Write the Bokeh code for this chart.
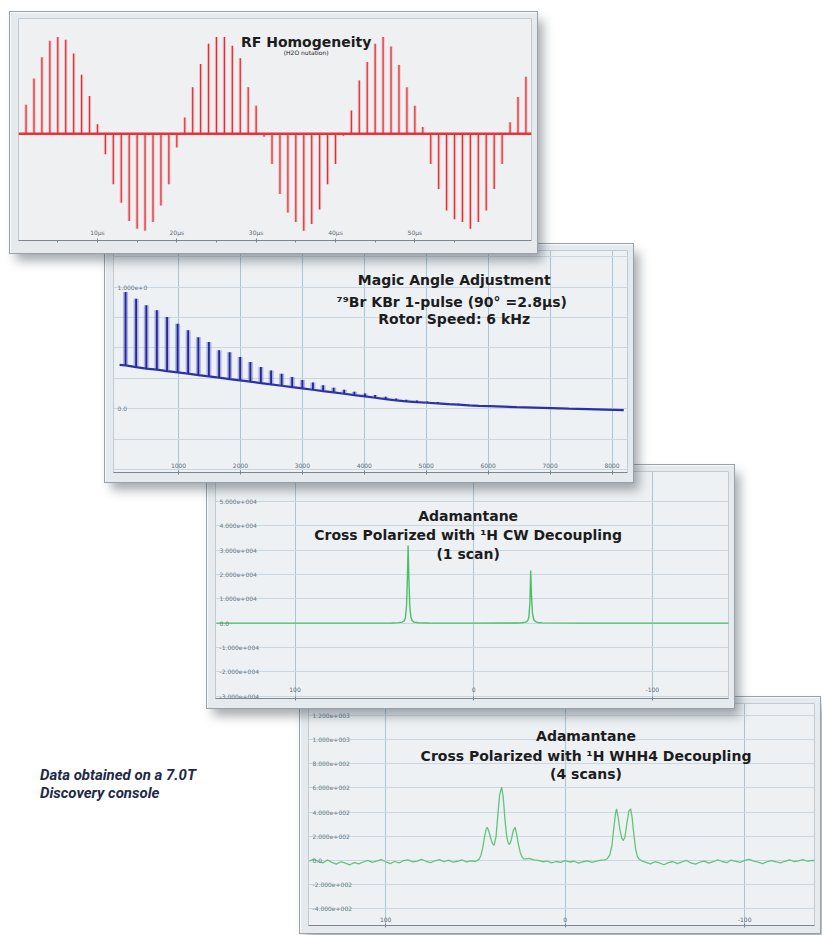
from bokeh.plotting import figure
from bokeh.models import Range1d, FixedTicker, Span, Div, Label
from bokeh.layouts import column
from bokeh.embed import file_html
from bokeh.resources import INLINE
from bokeh.core.properties import value

# ---------------- data ----------------
# Panel 1: RF homogeneity (H2O nutation) - signal vs pulse length (µs)
rf_pulse_us = [1, 2, 3, 4, 5, 6, 7, 8, 9, 10, 11, 12, 13, 14, 15, 16,
               17, 18, 19, 20, 21, 22, 23, 24, 25, 26, 27, 28, 29, 30, 31, 32,
               33, 34, 35, 36, 37, 38, 39, 40, 41, 42, 43, 44, 45, 46, 47, 48,
               49, 50, 51, 52, 53, 54, 55, 56, 57, 58, 59, 60, 61, 62, 63, 64]
rf_signal = [0.30, 0.57, 0.79, 0.96, 1.00, 0.97, 0.83, 0.61, 0.39, 0.10,
             -0.21, -0.52, -0.71, -0.90, -0.98, -1.00, -0.91, -0.74, -0.52, -0.14,
             0.17, 0.48, 0.72, 0.93, 1.00, 1.00, 0.91, 0.78, 0.48, 0.29,
             -0.03, -0.31, -0.62, -0.81, -0.91, -1.00, -0.93, -0.78, -0.52, -0.31,
             -0.02, 0.24, 0.55, 0.74, 0.93, 1.00, 0.90, 0.71, 0.48, 0.29,
             0.07, -0.31, -0.57, -0.79, -0.88, -0.91, -0.98, -0.91, -0.79, -0.57,
             -0.31, 0.12, 0.38, 0.59]
rf_ticks = [10, 20, 30, 40, 50]
rf_tick_labels = ["10µs", "20µs", "30µs", "40µs", "50µs"]
rf_minor_ticks = [5, 15, 25, 35, 45, 55]

# Panel 2: magic angle adjustment - 79Br FID with rotor echoes (time in µs)
mas_echo_us = [145, 315, 480, 650, 815, 985, 1155, 1320, 1490, 1655, 1825, 1995,
               2160, 2330, 2495, 2665, 2835, 3000, 3170, 3335, 3505, 3675, 3840, 4010,
               4175, 4345, 4515, 4680, 4850, 5015, 5185, 5355, 5520, 5690, 5855, 6025]
mas_echo_base = [0.356, 0.342, 0.329, 0.321, 0.309, 0.299, 0.288, 0.276, 0.266, 0.255,
                 0.243, 0.233, 0.222, 0.211, 0.200, 0.189, 0.178, 0.167, 0.156, 0.145,
                 0.134, 0.123, 0.112, 0.101, 0.090, 0.079, 0.068, 0.060, 0.054, 0.049,
                 0.044, 0.038, 0.033, 0.027, 0.024, 0.022]
mas_echo_height = [0.603, 0.562, 0.521, 0.488, 0.444, 0.400, 0.356, 0.312, 0.282, 0.225,
                   0.222, 0.192, 0.162, 0.132, 0.115, 0.099, 0.082, 0.069, 0.060, 0.047,
                   0.038, 0.033, 0.027, 0.025, 0.022, 0.019, 0.016, 0.014, 0.014, 0.011,
                   0.011, 0.008, 0.008, 0.005, 0.005, 0.005]
mas_start_us = [48]
mas_start_val = [0.360]
mas_tail_us = [6460, 7300, 8190]
mas_tail_val = [0.013, 0.000, -0.012]
mas_ticks = [1000, 2000, 3000, 4000, 5000, 6000, 7000, 8000]
mas_tick_labels = ["1000", "2000", "3000", "4000", "5000", "6000", "7000", "8000"]
mas_ygrid = [-0.5, -0.25, 0.0, 0.25, 0.5, 0.75, 1.0, 1.25]
mas_ylabel_vals = [1.0, 0.0]
mas_ylabels = ["1.000e+0", "0.0"]

# Panel 3: adamantane, CP with 1H CW decoupling (1 scan)
cw_x = [144, 100, 60, 46, 42, 40, 39, 38.2, 37.6, 37.1, 36.7, 36.3, 35.8, 35.2,
        34.4, 33.5, 31, 25, 0, -24, -27, -29, -30.2, -30.9, -31.5, -31.9, -32.3,
        -32.9, -33.6, -34.6, -35.8, -38.5, -60, -100, -143]
cw_y = [0, 0, 0, 60, 180, 380, 800, 2200, 7000, 18500, 31900, 19000, 7500, 2600,
        950, 400, 150, 40, 0, 40, 150, 380, 900, 2500, 9000, 21600, 12000,
        4000, 1400, 600, 250, 80, 0, 0, 0]
cw_yticks = [50000, 40000, 30000, 20000, 10000, 0, -10000, -20000, -30000]
cw_ylabels = ["5.000e+004", "4.000e+004", "3.000e+004", "2.000e+004", "1.000e+004",
              "0.0", "-1.000e+004", "-2.000e+004", "-3.000e+004"]
cw_xticks = [100, 0, -100]
cw_xlabels = ["100", "0", "-100"]

# Panel 4: adamantane, CP with 1H WHH4 decoupling (4 scans)
whh_x = [142.5, 140, 137.5, 135, 132.5, 130, 127.5, 125, 122.5, 120, 117.5, 115,
         112.5, 110, 107.5, 105, 102.5, 100, 97.5, 95, 92.5, 90, 87.5, 85, 82.5,
         80, 77.5, 75, 72.5, 70, 67.5, 65, 62.5, 60, 57.5, 55, 52.5, 50,
         48, 47, 46, 45, 44, 43.4, 42.5, 41.5, 40.5, 39.6, 38.5, 37.5, 36.5, 35.4,
         34.5, 33.5, 32.5, 31.6, 31.0, 30.0, 29.0, 27.9, 27.0, 26.0, 25.0, 24.0, 23.0,
         20, 17.5, 15, 12.5, 10, 7.5, 5, 2.5, 0, -2.5, -5, -7.5, -10, -12.5, -15,
         -17.5, -20,
         -22, -23.5, -24.8, -26, -27, -28, -28.6, -29.5, -30.5, -31.5, -32.4, -33.3,
         -34.3, -35.5, -36.5, -37.3, -38.3, -39.3, -40.3, -41.5, -43,
         -45, -47.5, -50, -52.5, -55, -57.5, -60, -62.5, -65, -67.5, -70, -72.5,
         -75, -77.5, -80, -82.5, -85, -87.5, -90, -92.5, -95, -97.5, -100, -102.5,
         -105, -107.5, -110, -112.5, -115, -117.5, -120, -122.5, -125, -127.5,
         -130, -132.5, -135, -137.5, -140]
whh_y = [-5, 12, -8, -20, 5, -15, -30, -10, -22, -35, -18, -28,
         -12, 2, -15, -5, 8, -10, -25, -8, -20, 0, 6, -12, -4,
         10, -6, -18, -2, 8, -10, 4, -14, -6, 6, -12, -3, -8,
         10, 40, 100, 190, 262, 275, 240, 185, 140, 125, 200, 380, 545, 606,
         520, 330, 190, 140, 132, 170, 245, 275, 215, 130, 65, 30, 12,
         18, 6, 2, -10, -4, -20, -8, -15, 0, -12, -6, -22, -10, -3, -15,
         -5, 4,
         5, 15, 45, 120, 255, 385, 427, 360, 255, 185, 165, 195,
         300, 410, 427, 355, 210, 90, 30, 8, -5,
         -15, -28, -10, -20, -35, -18, -8, -25, -12, 2, -20, -30,
         -14, -5, -22, -10, 6, -8, -18, 4, -6, -16, 2, 10,
         -4, -14, -26, -10, 0, -12, -20, -6, 6, -8,
         -2, 8, -6, 2, -4]
whh_yticks = [1200, 1000, 800, 600, 400, 200, 0, -200, -400]
whh_ylabels = ["1.200e+003", "1.000e+003", "8.000e+002", "6.000e+002", "4.000e+002",
               "2.000e+002", "0.0", "-2.000e+002", "-4.000e+002"]
whh_xticks = [100, 0, -100]
whh_xlabels = ["100", "0", "-100"]

# ---------------- helpers ----------------
FONT = "DejaVu Sans"
SHADOW = "0 0 0 1px #98a1a9, 6px 8px 10px rgba(60,70,80,0.45)"


def make_panel(width, height, xr, yr, borders, bg, bfill, z):
    p = figure(width=width, height=height,
               x_range=Range1d(*xr), y_range=Range1d(*yr),
               output_backend="svg", toolbar_location=None,
               y_axis_location=None,
               min_border_left=borders[0], min_border_right=borders[1],
               min_border_top=borders[2], min_border_bottom=borders[3],
               background_fill_color=bg, border_fill_color=bfill,
               outline_line_color="#c3cbd2")
    p.styles = {"z-index": str(z), "position": "relative", "box-shadow": SHADOW}
    return p


def style_xaxis(p, ticks, labels, minor, standoff):
    ax = p.xaxis[0]
    ax.ticker = FixedTicker(ticks=ticks, minor_ticks=minor)
    ax.major_label_overrides = {float(t): l for t, l in zip(ticks, labels)}
    ax.major_label_text_font = FONT
    ax.major_label_text_font_size = "6px"
    ax.major_label_text_color = "#5d6a75"
    ax.major_label_standoff = standoff
    ax.axis_line_color = "#7b8690"
    ax.major_tick_line_color = "#7b8690"
    ax.minor_tick_line_color = "#7b8690"
    ax.major_tick_in = 2
    ax.major_tick_out = 2
    ax.minor_tick_in = 0
    ax.minor_tick_out = 2


def grids(p, xticks, yticks):
    p.xgrid.ticker = FixedTicker(ticks=xticks)
    p.xgrid.grid_line_color = "#a9c6d9"
    p.xgrid.grid_line_width = 1
    p.ygrid.ticker = FixedTicker(ticks=yticks)
    p.ygrid.grid_line_color = "#cad7e1"
    p.ygrid.grid_line_width = 1


def ylabels(p, x0, vals, labels):
    p.text(x=[x0] * len(vals), y=vals, text=labels, x_offset=4,
           text_font=value(FONT), text_font_size="6px", text_color="#6b7a86",
           text_align="left", text_baseline="middle")


def title_lines(p, x, ys, lines, size="14px", style="bold"):
    for y, t in zip(ys, lines):
        p.add_layout(Label(x=x, y=y, text=t, text_font=FONT, text_font_size=size,
                           text_font_style=style, text_color="#1c1c1c",
                           text_align="center", text_baseline="middle"))


# ---------------- panel 1 ----------------
p1 = make_panel(527, 241, (0.05, 64.7), (-1.10, 1.19), (5, 5, 6, 13),
                "#eef0f1", "#e7eaec", 40)
p1.grid.visible = False
style_xaxis(p1, rf_ticks, rf_tick_labels, rf_minor_ticks, -14)
zeros = [0.0] * len(rf_pulse_us)
p1.segment(x0=rf_pulse_us, y0=zeros, x1=rf_pulse_us, y1=rf_signal,
           line_color="#f3a2a7", line_width=3.2, line_alpha=0.6)
p1.segment(x0=rf_pulse_us, y0=zeros, x1=rf_pulse_us, y1=rf_signal,
           line_color="#d8313b", line_width=1.2)
p1.add_layout(Span(location=0, dimension="width", line_color="#e5323b",
                   line_width=2.5))
title_lines(p1, 36.3, [0.944], ["RF Homogeneity"], size="14px", style="bold")
title_lines(p1, 36.3, [0.836], ["(H2O nutation)"], size="6px", style="normal")

# ---------------- panel 2 ----------------
p2 = make_panel(528, 238, (-50, 8250), (-0.524, 1.30), (8, 6, 6, 10),
                "#edf1f4", "#e5eaee", 30)
grids(p2, mas_ticks, mas_ygrid)
style_xaxis(p2, mas_ticks, mas_tick_labels, [], -12)
mas_top = [b + h for b, h in zip(mas_echo_base, mas_echo_height)]
p2.line(mas_start_us + mas_echo_us + mas_tail_us,
        mas_start_val + mas_echo_base + mas_tail_val,
        line_color="#2a30a8", line_width=2.2)
p2.segment(x0=mas_echo_us, y0=mas_echo_base, x1=mas_echo_us, y1=mas_top,
           line_color="#5a60d8", line_width=5, line_alpha=0.45)
p2.segment(x0=mas_echo_us, y0=mas_echo_base, x1=mas_echo_us, y1=mas_top,
           line_color="#22278f", line_width=1.8)
ylabels(p2, -50, mas_ylabel_vals, mas_ylabels)
title_lines(p2, 5452, [1.055, 0.877, 0.735],
            ["Magic Angle Adjustment", "⁷⁹Br KBr 1-pulse  (90° =2.8µs)",
             "Rotor Speed: 6 kHz"])

# ---------------- panel 3 ----------------
p3 = make_panel(527, 243, (144.5, -142.6), (-31000, 62300), (5, 6, 6, 10),
                "#edf1f4", "#e5eaee", 20)
grids(p3, cw_xticks, cw_yticks)
style_xaxis(p3, cw_xticks, cw_xlabels, [], -14)
p3.line(cw_x, cw_y, line_color="#4bbf66", line_width=1.4)
ylabels(p3, 144.5, cw_yticks, cw_ylabels)
title_lines(p3, 3.1, [44200, 36000, 28500],
            ["Adamantane", "Cross Polarized with ¹H CW Decoupling", "(1 scan)"])

# ---------------- panel 4 ----------------
p4 = make_panel(520, 236, (143, -138.9), (-537, 1298), (5, 2, 6, 8),
                "#edf1f4", "#e5eaee", 10)
grids(p4, whh_xticks, whh_yticks)
style_xaxis(p4, whh_xticks, whh_xlabels, [], -11)
p4.line(whh_x, whh_y, line_color="#62c47a", line_width=1.3)
ylabels(p4, 143, whh_yticks, whh_ylabels)
title_lines(p4, -11.6, [1033, 868, 716],
            ["Adamantane", "Cross Polarized with ¹H WHH4 Decoupling", "(4 scans)"])

# ---------------- note ----------------
note = Div(text=('<div style="font-family:\'Liberation Sans Narrow\',\'Roboto\',sans-serif;'
                 'font-weight:bold;font-style:italic;font-size:15px;line-height:18px;'
                 'color:#1d2a47;white-space:nowrap;">'
                 'Data obtained on a 7.0T<br>Discovery console</div>'),
           width=200, height=40)

p1.margin = (12, 0, 0, 10)
p2.margin = (-9, 0, 0, 105)
p3.margin = (-17, 0, 0, 207)
note.margin = (58, 0, 0, 40)
p4.margin = (-109, 0, 0, 300)

layout = column(p1, p2, p3, note, p4)

open("out.html", "w").write(file_html(layout, INLINE))
